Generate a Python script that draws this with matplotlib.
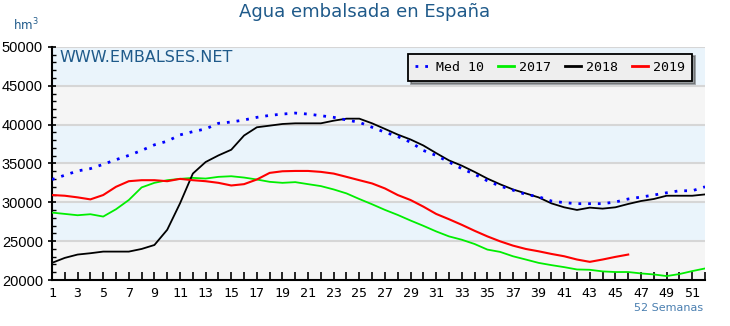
import matplotlib
matplotlib.use("Agg")
import matplotlib.pyplot as plt
import numpy as np
from matplotlib.lines import Line2D

# weekly reservoir volume, hm3
semanas = np.arange(1, 53)

med10 = [32940, 33490, 34040, 34340, 34890, 35490, 36040, 36680, 37400, 37870,
         38680, 39100, 39450, 40170, 40340, 40600, 40940, 41190, 41360, 41490,
         41360, 41150, 40940, 40600, 40300, 39660, 39020, 38470, 37740, 36680,
         36040, 35190, 34340, 33620, 32770, 32090, 31570, 31020, 30720, 30170,
         29960, 29830, 29830, 29830, 30040, 30430, 30680, 30940, 31230, 31490,
         31490, 32000]

y2017 = [28680, 28510, 28340, 28470, 28170, 29110, 30300, 31920, 32510, 32850,
         33020, 33150, 33060, 33280, 33360, 33190, 32940, 32640, 32510, 32600,
         32340, 32090, 31660, 31150, 30430, 29750, 29030, 28380, 27660, 26980,
         26260, 25620, 25190, 24640, 23920, 23620, 23060, 22640, 22210, 21920,
         21660, 21360, 21320, 21110, 21030, 21030, 20850, 20720, 20510, 20770,
         21150, 21490]

y2018 = [22210, 22850, 23280, 23450, 23660, 23660, 23660, 24000, 24510, 26470,
         29870, 33700, 35190, 36040, 36770, 38600, 39660, 39870, 40085, 40170,
         40170, 40170, 40510, 40770, 40770, 40170, 39450, 38720, 38090, 37320,
         36340, 35400, 34720, 33920, 33060, 32320, 31660, 31150, 30640, 29870,
         29360, 29020, 29320, 29190, 29360, 29790, 30170, 30430, 30850, 30850,
         30850, 31020]

y2019 = [30940, 30850, 30640, 30380, 30940, 32000, 32720, 32850, 32850, 32720,
         33020, 32850, 32720, 32510, 32170, 32340, 32940, 33790, 34000, 34040,
         34040, 33920, 33700, 33280, 32850, 32430, 31790, 30940, 30300, 29450,
         28510, 27830, 27110, 26340, 25620, 24980, 24430, 24000, 23700, 23360,
         23060, 22640, 22340, 22640, 22980, 23280]

fig = plt.figure(figsize=(7.3, 3.26), dpi=100)
ax = fig.add_axes([0.0712, 0.141, 0.8946, 0.715])

# bands
bandas = ['#f5f5f5', '#eaf4fb']
for i, y0 in enumerate(range(20000, 50000, 5000)):
    ax.axhspan(y0, y0 + 5000, color=bandas[i % 2], zorder=0, lw=0)
for y0 in range(25000, 50001, 5000):
    ax.axhline(y0, color='#d6d6d6', lw=1.5, zorder=1)

ax.plot(semanas, y2017, color='#00ee00', lw=1.3, zorder=3)
ax.plot(semanas, y2018, color='black', lw=1.3, zorder=4)
ax.plot(semanas[:len(y2019)], y2019, color='#ff0000', lw=1.5, zorder=5)
ax.plot(semanas, med10, color='#0000ff', lw=2, ls=(0, (1, 2.5)), zorder=6)

ax.set_xlim(1, 52)
ax.set_ylim(20000, 50000)

ax.set_xticks(semanas)
ax.set_xticklabels([str(s) if s % 2 == 1 else '' for s in semanas],
                   family='DejaVu Sans Mono', fontsize=9.5)
ax.tick_params(axis='x', direction='in', length=6, width=1.2, pad=5)
ax.set_yticks(range(20000, 50001, 5000))
ax.set_yticks(range(20000, 50001, 1000), minor=True)
ax.tick_params(axis='y', which='major', direction='inout', length=6, width=1.2, labelsize=10.5)
ax.tick_params(axis='y', which='minor', direction='in', length=3, width=1)
for lab in ax.get_yticklabels():
    lab.set_family('Liberation Sans')

for s in ['top', 'right']:
    ax.spines[s].set_visible(False)
ax.spines['left'].set_linewidth(1.5)
ax.spines['bottom'].set_linewidth(1.5)

fig.text(0.5, 0.963, 'Agua embalsada en España', ha='center', va='center',
         fontsize=13, color='#1f5a8a')
fig.text(0.018, 0.923, 'hm$^3$', ha='left', va='center', fontsize=8.5, color='#1f5a8a')
ax.text(0.012, 0.988, 'WWW.EMBALSES.NET', transform=ax.transAxes, ha='left', va='top',
        fontsize=11.5, color='#1f5a8a', zorder=7)
fig.text(0.963, 0.055, '52 Semanas', ha='right', va='center', fontsize=8, color='#4a7fb0')

handles = [Line2D([], [], color='#0000ff', lw=2, ls=(0, (1, 2.5))),
           Line2D([], [], color='#00ee00', lw=2),
           Line2D([], [], color='black', lw=2),
           Line2D([], [], color='#ff0000', lw=2)]
leg = ax.legend(handles, ['Med 10', '2017', '2018', '2019'], ncol=4, loc='upper right',
                bbox_to_anchor=(0.99, 1.0), frameon=True, fancybox=False, shadow=True,
                handlelength=1.2, handletextpad=0.35, columnspacing=1.1,
                borderpad=0.55, prop={'family': 'DejaVu Sans Mono', 'size': 9.5})
leg.get_frame().set_facecolor('#eeeeee')
leg.get_frame().set_edgecolor('black')
leg.get_frame().set_linewidth(1.3)
leg.set_zorder(10)

fig.savefig('out.png', dpi=100)
